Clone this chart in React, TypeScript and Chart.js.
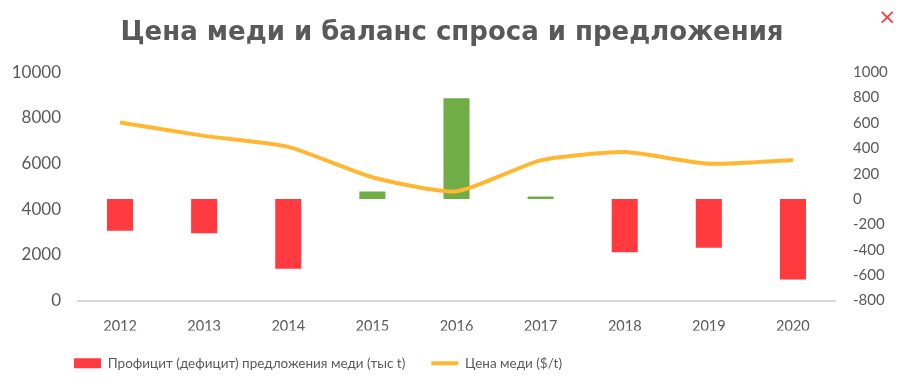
import React, { useEffect, useRef } from "react";
import { Chart, registerables } from "chart.js";

Chart.register(...registerables);

const years = ["2012", "2013", "2014", "2015", "2016", "2017", "2018", "2019", "2020"];
const balance = [-250, -270, -550, 60, 795, 20, -420, -385, -635];
const price = [7800, 7210, 6730, 5400, 4780, 6140, 6500, 5990, 6150];

const titleText = "Цена меди и баланс спроса и предложения";
const balanceLabel = "Профицит (дефицит) предложения меди (тыс t)";
const priceLabel = "Цена меди ($/t)";

const RED = "#FF3B3F";
const GREEN = "#70AD47";
const ORANGE = "#FFB732";
const GRAY = "#595959";
const FONT = "Lato, 'DejaVu Sans', sans-serif";

const legendShift = {
  id: "legendShift",
  afterLayout(chart: any) {
    if (chart.legend) {
      chart.legend.left = 48;
    }
  },
};

export default function App() {
  const ref = useRef<HTMLCanvasElement | null>(null);

  useEffect(() => {
    document.body.style.margin = "0";
    const canvas = ref.current;
    if (!canvas) return;
    const chart = new Chart(canvas, {
      type: "bar",
      data: {
        labels: years,
        datasets: [
          {
            type: "bar",
            label: balanceLabel,
            data: balance,
            backgroundColor: balance.map((v) => (v < 0 ? RED : GREEN)),
            yAxisID: "y1",
            barPercentage: 0.31,
            categoryPercentage: 1,
            order: 2,
          },
          {
            type: "line",
            label: priceLabel,
            data: price,
            borderColor: ORANGE,
            backgroundColor: ORANGE,
            borderWidth: 4,
            pointRadius: 0,
            tension: 0.2,
            yAxisID: "y",
            order: 1,
          },
        ],
      },
      plugins: [legendShift],
      options: {
        responsive: false,
        animation: false,
        layout: { padding: { left: 0, right: 0, top: 0, bottom: 9 } },
        plugins: {
          tooltip: { enabled: false },
          title: {
            display: true,
            text: titleText,
            color: GRAY,
            font: { family: "'DejaVu Sans', sans-serif", size: 26, weight: "bold" },
            padding: { top: 18, bottom: 23 },
          },
          legend: {
            position: "bottom",
            align: "start",
            labels: {
              color: GRAY,
              font: { family: FONT, size: 13.5 },
              usePointStyle: true,
              pointStyleWidth: 27,
              boxHeight: 10,
              padding: 26,
              generateLabels: () => [
                {
                  text: balanceLabel,
                  fillStyle: RED,
                  strokeStyle: RED,
                  lineWidth: 0,
                  pointStyle: "rect",
                  datasetIndex: 0,
                  fontColor: GRAY,
                  hidden: false,
                },
                {
                  text: priceLabel,
                  fillStyle: ORANGE,
                  strokeStyle: ORANGE,
                  lineWidth: 4,
                  pointStyle: "line",
                  datasetIndex: 1,
                  fontColor: GRAY,
                  hidden: false,
                },
              ],
            },
          },
        },
        scales: {
          x: {
            grid: { display: false },
            border: { display: true, color: "#D9D9D9", width: 2 },
            ticks: { color: GRAY, font: { family: FONT, size: 14.5 }, padding: 9 },
            afterFit: (s: any) => {
              s.height = 30;
            },
          },
          y: {
            position: "left",
            min: 0,
            max: 10000,
            ticks: {
              stepSize: 2000,
              color: GRAY,
              font: { family: FONT, size: 17 },
              padding: 17,
              callback: (v: any) => String(v),
            },
            grid: { display: false, drawTicks: false },
            border: { display: false },
            afterFit: (s: any) => {
              s.width = 78;
            },
          },
          y1: {
            position: "right",
            min: -800,
            max: 1000,
            ticks: {
              stepSize: 200,
              color: GRAY,
              font: { family: FONT, size: 15 },
              padding: 18,
              callback: (v: any) => String(v),
            },
            grid: { display: false, drawTicks: false },
            border: { display: false },
            afterFit: (s: any) => {
              s.width = 69;
            },
          },
        },
      },
    });
    return () => chart.destroy();
  }, []);

  return (
    <div style={{ position: "relative", width: 904, height: 389 }}>
      <canvas ref={ref} width={904} height={389} style={{ display: "block" }} />
      <div
        style={{
          position: "absolute",
          left: 878,
          top: 4,
          color: RED,
          fontFamily: "'DejaVu Sans', sans-serif",
          fontSize: 22,
          lineHeight: "26px",
        }}
      >
        ×
      </div>
    </div>
  );
}
